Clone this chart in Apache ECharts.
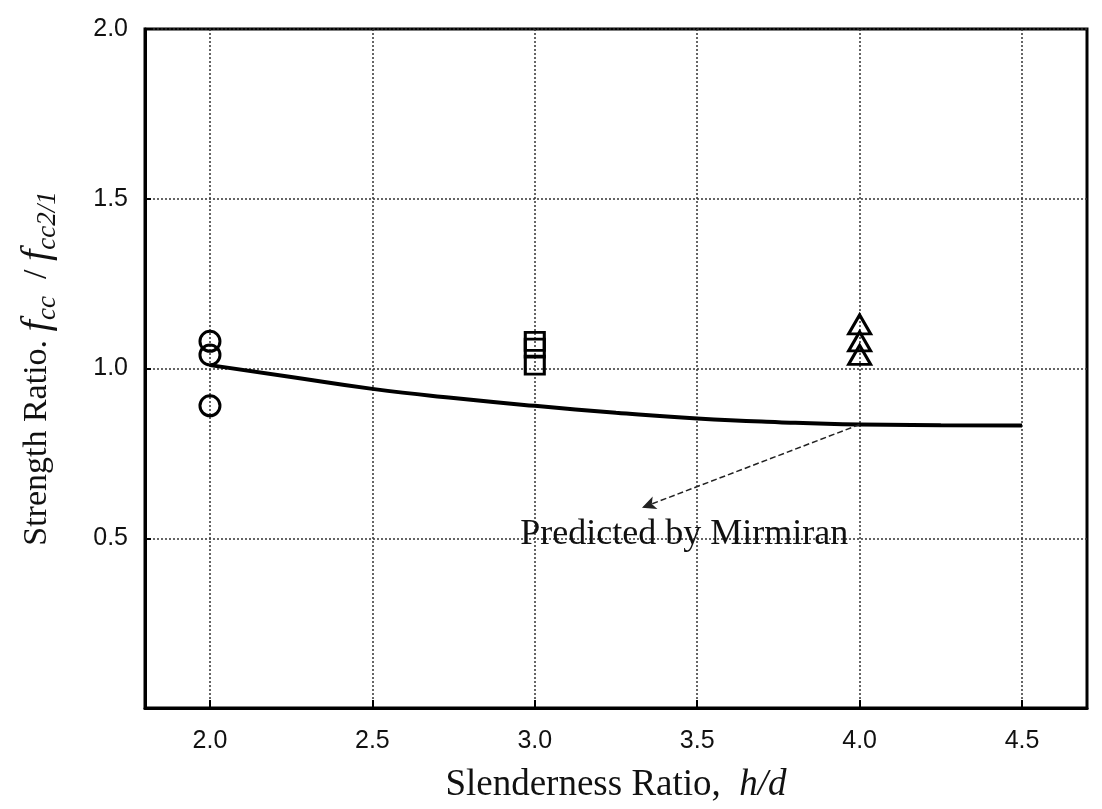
<!DOCTYPE html>
<html>
<head>
<meta charset="utf-8">
<script src="https://cdn.jsdelivr.net/npm/echarts@6/dist/echarts.min.js"></script>
<style>
  html, body { margin: 0; padding: 0; background: #fff; }
  #chart { width: 1102px; height: 809px; }
</style>
</head>
<body>
<div id="chart"></div>
<script>
// ---- data ----
var xTicks = [2.0, 2.5, 3.0, 3.5, 4.0, 4.5];
var yTicks = [0.5, 1.0, 1.5, 2.0];
var circleX = [2.0, 2.0, 2.0];
var circleY = [1.08, 1.04, 0.89];
var squareX = [3.0, 3.0, 3.0];
var squareY = [1.08, 1.06, 1.01];
var triangleX = [4.0, 4.0, 4.0];
var triangleY = [1.13, 1.08, 1.04];
var curveX = [2.0, 2.25, 2.5, 2.75, 3.0, 3.25, 3.5, 3.75, 4.0, 4.25, 4.5];
var curveY = [1.01, 0.975, 0.94, 0.913, 0.89, 0.87, 0.853, 0.842, 0.835, 0.833, 0.832];
var arrowFrom = [4.0, 0.835];
var arrowTo = [3.33, 0.59];
var noteText = 'Predicted by Mirmiran';
var notePos = [3.46, 0.51];

function pairs(xs, ys) { return xs.map(function (x, i) { return [x, ys[i]]; }); }

var serif = '"Liberation Serif", "DejaVu Serif", serif';
var sans = '"Liberation Sans", Arial, sans-serif';

var hollow = {
  color: 'rgba(0,0,0,0)',
  borderColor: '#000',
  borderWidth: 3,
  opacity: 1
};

var chart = echarts.init(document.getElementById('chart'), null, { renderer: 'canvas' });
chart.setOption({
  animation: false,
  backgroundColor: '#fff',
  grid: {
    left: 145, top: 29, right: 15, bottom: 101,
    outerBoundsMode: 'none',
    containLabel: false,
    show: true, borderColor: '#000', borderWidth: 3, backgroundColor: 'rgba(0,0,0,0)'
  },
  xAxis: {
    type: 'value',
    min: 1.8, max: 4.7,
    name: '{a|Slenderness Ratio,  }{i|h/d}',
    nameLocation: 'middle',
    nameGap: 59,
    nameTextStyle: {
      rich: {
        a: { fontFamily: serif, fontSize: 37, color: '#111' },
        i: { fontFamily: serif, fontSize: 37, fontStyle: 'italic', color: '#111' }
      }
    },
    axisLine: { show: true, lineStyle: { color: '#000', width: 3 } },
    axisTick: { show: true, inside: true, length: 8, customValues: xTicks, lineStyle: { color: '#000', width: 2 } },
    axisLabel: {
      customValues: xTicks, margin: 21,
      fontFamily: sans, fontSize: 25, color: '#111',
      formatter: function (v) { return v.toFixed(1); }
    },
    splitLine: { show: true, lineStyle: { color: '#333', width: 1.5, type: [2, 2] } }
  },
  yAxis: {
    type: 'value',
    min: 0, max: 2.0, interval: 0.5,
    name: '{a|Strength Ratio. }{i|f}{s|cc}{a|  / }{i|f}{s|cc2/1}',
    nameLocation: 'middle',
    nameGap: 84,
    nameTextStyle: {
      rich: {
        a: { fontFamily: serif, fontSize: 34, color: '#111', lineHeight: 48 },
        i: { fontFamily: serif, fontSize: 41, fontStyle: 'italic', color: '#111', lineHeight: 48 },
        s: { fontFamily: serif, fontSize: 27, fontStyle: 'italic', color: '#111', lineHeight: 27, verticalAlign: 'bottom' }
      }
    },
    axisLine: { show: true, lineStyle: { color: '#000', width: 3 } },
    axisTick: { show: true, inside: true, length: 6, lineStyle: { color: '#000', width: 2 } },
    axisLabel: {
      margin: 17,
      fontFamily: sans, fontSize: 25, color: '#111',
      formatter: function (v) { return v === 0 ? '' : v.toFixed(1); }
    },
    splitLine: { show: true, lineStyle: { color: '#333', width: 1.5, type: [2, 2] } }
  },
  series: [
    {
      name: 'Predicted by Mirmiran',
      type: 'line',
      smooth: true,
      showSymbol: false,
      symbol: 'none',
      data: pairs(curveX, curveY),
      lineStyle: { color: '#000', width: 4 },
      z: 3,
      markLine: {
        silent: true,
        symbol: ['none', 'arrow'],
        symbolSize: [10, 14],
        label: { show: false },
        lineStyle: { color: '#222', width: 1.5, type: [6, 3] },
        data: [[{ coord: arrowFrom }, { coord: arrowTo }]]
      }
    },
    {
      name: 'h/d = 2',
      type: 'scatter',
      symbol: 'circle',
      symbolSize: 20,
      data: pairs(circleX, circleY),
      itemStyle: hollow,
      z: 4
    },
    {
      name: 'h/d = 3',
      type: 'scatter',
      symbol: 'rect',
      symbolSize: [19, 18],
      data: pairs(squareX, squareY),
      itemStyle: hollow,
      z: 4
    },
    {
      name: 'h/d = 4',
      type: 'scatter',
      symbol: 'triangle',
      symbolSize: [22, 19],
      data: pairs(triangleX, triangleY),
      itemStyle: hollow,
      z: 4
    },
    {
      name: 'note',
      type: 'scatter',
      symbolSize: 0,
      data: [notePos],
      silent: true,
      itemStyle: { opacity: 1 },
      label: {
        show: true,
        position: 'inside',
        formatter: noteText,
        fontFamily: serif,
        fontSize: 36,
        color: '#111'
      },
      z: 5
    }
  ]
});
</script>
</body>
</html>
